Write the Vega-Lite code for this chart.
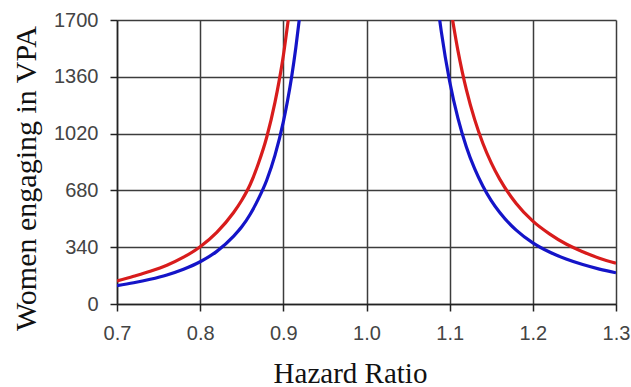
{
  "$schema": "https://vega.github.io/schema/vega-lite/v6.json",
  "width": 499,
  "height": 284,
  "autosize": {"type": "none"},
  "padding": {"left": 117, "top": 20, "right": 15, "bottom": 83},
  "background": "white",
  "config": {"view": {"stroke": null}},
  "data": {
    "values": [
      {"hr": 0.70, "n": 138, "group": "red", "side": "L"},
      {"hr": 0.72, "n": 166, "group": "red", "side": "L"},
      {"hr": 0.74, "n": 196, "group": "red", "side": "L"},
      {"hr": 0.76, "n": 232, "group": "red", "side": "L"},
      {"hr": 0.78, "n": 280, "group": "red", "side": "L"},
      {"hr": 0.80, "n": 343, "group": "red", "side": "L"},
      {"hr": 0.82, "n": 429, "group": "red", "side": "L"},
      {"hr": 0.84, "n": 546, "group": "red", "side": "L"},
      {"hr": 0.85, "n": 621, "group": "red", "side": "L"},
      {"hr": 0.86, "n": 714, "group": "red", "side": "L"},
      {"hr": 0.87, "n": 841, "group": "red", "side": "L"},
      {"hr": 0.88, "n": 998, "group": "red", "side": "L"},
      {"hr": 0.89, "n": 1208, "group": "red", "side": "L"},
      {"hr": 0.895, "n": 1337, "group": "red", "side": "L"},
      {"hr": 0.90, "n": 1486, "group": "red", "side": "L"},
      {"hr": 0.905, "n": 1667, "group": "red", "side": "L"},
      {"hr": 0.9059, "n": 1700, "group": "red", "side": "L"},
      {"hr": 0.70, "n": 110, "group": "blue", "side": "L"},
      {"hr": 0.72, "n": 127, "group": "blue", "side": "L"},
      {"hr": 0.74, "n": 148, "group": "blue", "side": "L"},
      {"hr": 0.76, "n": 174, "group": "blue", "side": "L"},
      {"hr": 0.78, "n": 208, "group": "blue", "side": "L"},
      {"hr": 0.80, "n": 253, "group": "blue", "side": "L"},
      {"hr": 0.82, "n": 315, "group": "blue", "side": "L"},
      {"hr": 0.84, "n": 405, "group": "blue", "side": "L"},
      {"hr": 0.85, "n": 462, "group": "blue", "side": "L"},
      {"hr": 0.86, "n": 536, "group": "blue", "side": "L"},
      {"hr": 0.87, "n": 629, "group": "blue", "side": "L"},
      {"hr": 0.88, "n": 741, "group": "blue", "side": "L"},
      {"hr": 0.89, "n": 891, "group": "blue", "side": "L"},
      {"hr": 0.90, "n": 1090, "group": "blue", "side": "L"},
      {"hr": 0.905, "n": 1215, "group": "blue", "side": "L"},
      {"hr": 0.91, "n": 1361, "group": "blue", "side": "L"},
      {"hr": 0.915, "n": 1534, "group": "blue", "side": "L"},
      {"hr": 0.9191, "n": 1700, "group": "blue", "side": "L"},
      {"hr": 1.1035, "n": 1700, "group": "red", "side": "R"},
      {"hr": 1.11, "n": 1515, "group": "red", "side": "R"},
      {"hr": 1.115, "n": 1393, "group": "red", "side": "R"},
      {"hr": 1.12, "n": 1285, "group": "red", "side": "R"},
      {"hr": 1.13, "n": 1105, "group": "red", "side": "R"},
      {"hr": 1.14, "n": 961, "group": "red", "side": "R"},
      {"hr": 1.15, "n": 845, "group": "red", "side": "R"},
      {"hr": 1.16, "n": 749, "group": "red", "side": "R"},
      {"hr": 1.18, "n": 602, "group": "red", "side": "R"},
      {"hr": 1.20, "n": 496, "group": "red", "side": "R"},
      {"hr": 1.22, "n": 420, "group": "red", "side": "R"},
      {"hr": 1.24, "n": 359, "group": "red", "side": "R"},
      {"hr": 1.26, "n": 313, "group": "red", "side": "R"},
      {"hr": 1.28, "n": 274, "group": "red", "side": "R"},
      {"hr": 1.30, "n": 244, "group": "red", "side": "R"},
      {"hr": 1.088, "n": 1700, "group": "blue", "side": "R"},
      {"hr": 1.09, "n": 1629, "group": "blue", "side": "R"},
      {"hr": 1.10, "n": 1332, "group": "blue", "side": "R"},
      {"hr": 1.11, "n": 1111, "group": "blue", "side": "R"},
      {"hr": 1.12, "n": 942, "group": "blue", "side": "R"},
      {"hr": 1.13, "n": 810, "group": "blue", "side": "R"},
      {"hr": 1.14, "n": 705, "group": "blue", "side": "R"},
      {"hr": 1.15, "n": 619, "group": "blue", "side": "R"},
      {"hr": 1.16, "n": 549, "group": "blue", "side": "R"},
      {"hr": 1.18, "n": 442, "group": "blue", "side": "R"},
      {"hr": 1.20, "n": 366, "group": "blue", "side": "R"},
      {"hr": 1.22, "n": 311, "group": "blue", "side": "R"},
      {"hr": 1.24, "n": 269, "group": "blue", "side": "R"},
      {"hr": 1.26, "n": 236, "group": "blue", "side": "R"},
      {"hr": 1.28, "n": 209, "group": "blue", "side": "R"},
      {"hr": 1.30, "n": 187, "group": "blue", "side": "R"}
    ]
  },
  "mark": {"type": "line", "strokeWidth": 3.2, "interpolate": "monotone", "clip": true},
  "encoding": {
    "x": {
      "field": "hr",
      "type": "quantitative",
      "scale": {"domain": [0.7, 1.3], "nice": false, "zero": false},
      "axis": {
        "title": "Hazard Ratio",
        "values": [0.7, 0.8, 0.9, 1.0, 1.1, 1.2, 1.3],
        "format": ".1f",
        "grid": true,
        "gridColor": "#3c3c3c",
        "gridWidth": 1.5,
        "gridOpacity": 1,
        "domainColor": "#222222",
        "domainWidth": 1.5,
        "tickColor": "#222222",
        "tickWidth": 1.5,
        "tickSize": 7,
        "labelFont": "Liberation Sans",
        "labelFontSize": 20,
        "labelColor": "#444444",
        "labelPadding": 12,
        "labelFlush": false,
        "labelOverlap": false,
        "titleFont": "Liberation Serif",
        "titleFontSize": 29,
        "titleFontWeight": "normal",
        "titleColor": "#111111",
        "titleX": 233,
        "titleY": 78,
        "titleAlign": "center",
        "titleBaseline": "alphabetic"
      }
    },
    "y": {
      "field": "n",
      "type": "quantitative",
      "scale": {"domain": [0, 1700], "nice": false},
      "axis": {
        "title": "Women engaging in VPA",
        "values": [0, 340, 680, 1020, 1360, 1700],
        "format": "d",
        "grid": true,
        "gridColor": "#3c3c3c",
        "gridWidth": 1.5,
        "gridOpacity": 1,
        "domainColor": "#222222",
        "domainWidth": 1.5,
        "tickColor": "#222222",
        "tickWidth": 1.5,
        "tickSize": 7,
        "labelFont": "Liberation Sans",
        "labelFontSize": 20,
        "labelColor": "#444444",
        "labelPadding": 12,
        "labelFlush": false,
        "labelOverlap": false,
        "titleFont": "Liberation Serif",
        "titleFontSize": 30,
        "titleFontWeight": "normal",
        "titleColor": "#111111",
        "titleAngle": -90,
        "titleX": -82,
        "titleY": 158,
        "titleAlign": "center",
        "titleBaseline": "alphabetic"
      }
    },
    "color": {
      "field": "group",
      "type": "nominal",
      "scale": {"domain": ["red", "blue"], "range": ["#d81c1c", "#1414c8"]},
      "legend": null
    },
    "detail": {"field": "side", "type": "nominal"}
  }
}
